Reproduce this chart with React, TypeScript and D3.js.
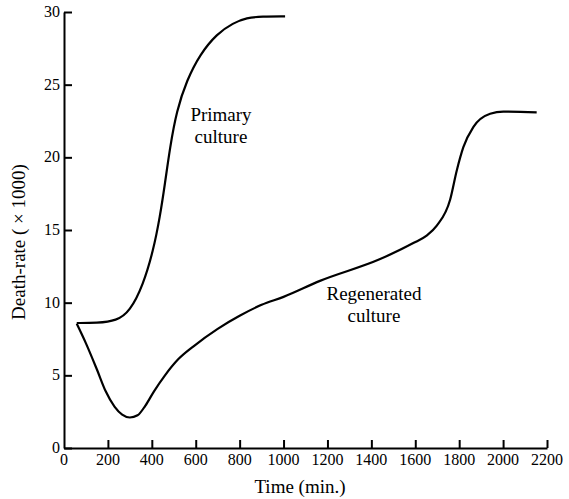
import * as d3 from "d3";
import { useEffect, useRef } from "react";

interface Pt {
  t: number;
  v: number;
}

// Primary culture: time (min.) and death-rate (x1000)
const primaryTimes = [58, 150, 240, 300, 360, 407, 437, 460, 483, 513, 559, 620, 696, 771, 832, 900, 1007];
const primaryRates = [8.6, 8.6, 8.75, 9.4, 11.2, 13.6, 15.9, 18.2, 20.7, 23.2, 25.3, 27.1, 28.5, 29.25, 29.6, 29.7, 29.7];

// Regenerated culture
const regenTimes = [58, 100, 150, 190, 230, 265, 300, 335, 370, 410, 460, 520, 590, 700, 800, 900, 1000, 1166, 1440, 1591, 1650, 1698, 1759, 1789, 1819, 1865, 1941, 2001, 2153];
const regenRates = [8.55, 7.2, 5.4, 3.9, 2.85, 2.3, 2.1, 2.25, 2.9, 3.9, 5.0, 6.1, 7.0, 8.2, 9.1, 9.85, 10.4, 11.5, 13.0, 14.1, 14.6, 15.3, 17.1, 19.1, 20.7, 22.1, 23.0, 23.15, 23.1];

const xTicks = [0, 200, 400, 600, 800, 1000, 1200, 1400, 1600, 1800, 2000, 2200];
const yTicks = [0, 5, 10, 15, 20, 25, 30];

const font = '"Liberation Serif"';

export default function App() {
  const svgRef = useRef<SVGSVGElement>(null);

  useEffect(() => {
    if (!svgRef.current) return;
    const width = 569;
    const height = 499;
    const margin = { top: 12, right: 22, bottom: 51, left: 64 };

    const svg = d3.select<SVGSVGElement, unknown>(svgRef.current);
    svg.selectAll("*").remove();
    svg.attr("width", width).attr("height", height);
    svg.append("rect").attr("width", width).attr("height", height).attr("fill", "#fff");

    const x = d3.scaleLinear().domain([0, 2200]).range([margin.left, width - margin.right]);
    const y = d3.scaleLinear().domain([0, 30]).range([height - margin.bottom, margin.top]);

    // text helper: no text-anchor, centre by measured width
    const addText = (
      parent: d3.Selection<any, unknown, null, undefined>,
      s: string,
      px: number,
      py: number,
      size: number,
      align: "middle" | "end" = "middle"
    ) => {
      const t = parent
        .append("text")
        .attr("y", py)
        .style("font-family", font)
        .attr("font-size", `${size}px`)
        .text(s);
      const node = t.node() as SVGTextElement;
      const len = node.getComputedTextLength();
      t.attr("x", align === "middle" ? px - len / 2 : px - len);
      return t;
    };

    // axes, ticks pointing inward, labels drawn separately
    const xAxis = d3.axisBottom(x).tickValues(xTicks).tickFormat(() => "").tickSizeInner(-8).tickSizeOuter(0);
    const yAxis = d3.axisLeft(y).tickValues(yTicks).tickFormat(() => "").tickSizeInner(-8).tickSizeOuter(0);

    const gx = svg
      .append("g")
      .attr("transform", `translate(0,${height - margin.bottom})`)
      .call(xAxis);
    const gy = svg.append("g").attr("transform", `translate(${margin.left},0)`).call(yAxis);

    [gx, gy].forEach((g) => {
      g.selectAll(".tick text").remove();
      g.attr("font-family", null).attr("font-size", null).attr("text-anchor", null);
      g.select(".domain").attr("stroke", "#000").attr("stroke-width", 2);
      g.selectAll(".tick line").attr("stroke", "#000").attr("stroke-width", 2);
    });
    gx.selectAll(".tick")
      .filter((d) => d === 0)
      .select("line")
      .remove();

    const tickFmt = d3.format("d");
    xTicks.forEach((v) => addText(svg, tickFmt(v), x(v), height - margin.bottom + 17, 16));
    yTicks.forEach((v) => addText(svg, tickFmt(v), margin.left - 4, y(v) + 5, 16, "end"));

    const primary: Pt[] = primaryTimes.map((t, i) => ({ t, v: primaryRates[i] }));
    const regen: Pt[] = regenTimes.map((t, i) => ({ t, v: regenRates[i] }));

    const primaryLine = d3
      .line<Pt>()
      .x((d) => x(d.t))
      .y((d) => y(d.v))
      .curve(d3.curveBasis);

    const regenLine = d3
      .line<Pt>()
      .x((d) => x(d.t))
      .y((d) => y(d.v))
      .curve(d3.curveMonotoneX);

    svg
      .append("path")
      .datum(primary)
      .attr("d", primaryLine)
      .attr("fill", "none")
      .attr("stroke", "#000")
      .attr("stroke-width", 2.2);

    svg
      .append("path")
      .datum(regen)
      .attr("d", regenLine)
      .attr("fill", "none")
      .attr("stroke", "#000")
      .attr("stroke-width", 2.2);

    // curve labels
    addText(svg, "Primary", 221, 121, 19);
    addText(svg, "culture", 221, 143, 19);
    addText(svg, "Regenerated", 374, 300, 19);
    addText(svg, "culture", 374, 322, 19);

    // axis titles
    addText(svg, "Time (min.)", 300, 493, 19);
    const yt = svg.append("g").attr("transform", "translate(25,242) rotate(-90)");
    addText(yt, "Death-rate ( × 1000)", 0, 0, 19);
  }, []);

  return <svg ref={svgRef} style={{ position: "absolute", left: 0, top: 0 }}></svg>;
}
